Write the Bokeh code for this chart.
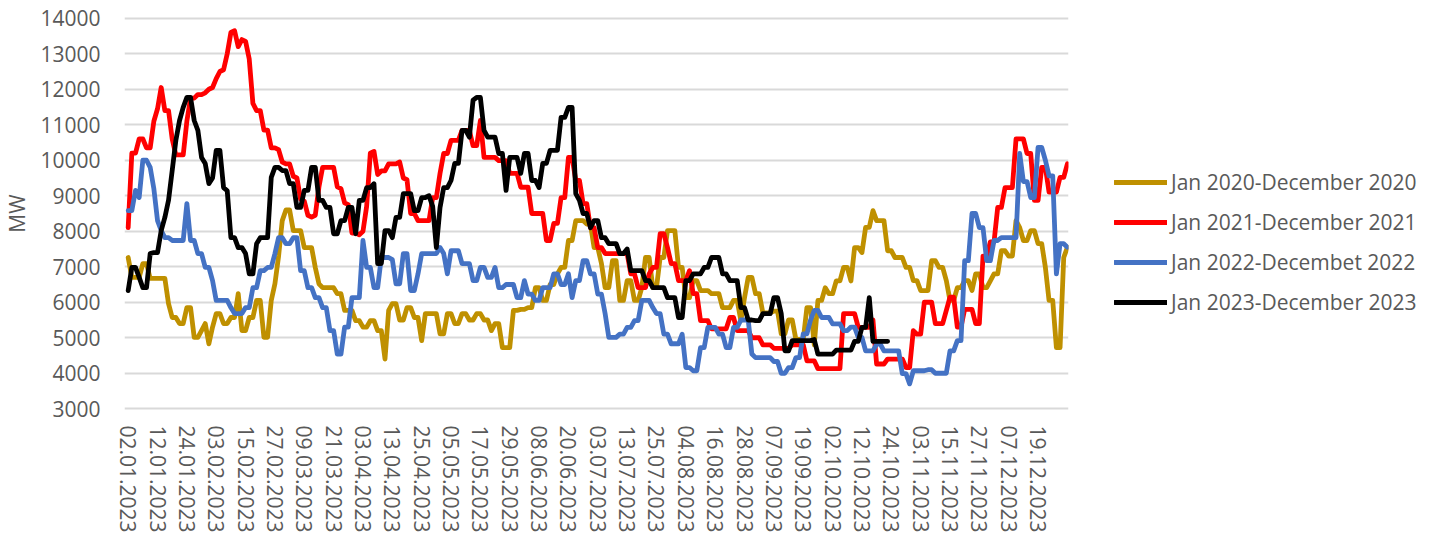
from bokeh.plotting import figure
from bokeh.models import Range1d, FixedTicker, Legend, LegendItem
from bokeh.embed import file_html
from bokeh.resources import INLINE

tick_labels = ["02.01.2023", "12.01.2023", "24.01.2023", "03.02.2023", "15.02.2023", "27.02.2023",
               "09.03.2023", "21.03.2023", "03.04.2023", "13.04.2023", "25.04.2023", "05.05.2023",
               "17.05.2023", "29.05.2023", "08.06.2023", "20.06.2023", "03.07.2023", "13.07.2023",
               "25.07.2023", "04.08.2023", "16.08.2023", "28.08.2023", "07.09.2023", "19.09.2023",
               "02.10.2023", "12.10.2023", "24.10.2023", "03.11.2023", "15.11.2023", "27.11.2023",
               "07.12.2023", "19.12.2023"]

series_names = ["Jan 2020-December 2020", "Jan 2021-December 2021",
                "Jan 2022-Decembet 2022", "Jan 2023-December 2023"]

mw_2020 = [
    7260, 6700, 6700, 6700, 7090, 7090, 6670, 6670,
    6670, 6670, 6670, 5960, 5570, 5570, 5400, 5400,
    5850, 5850, 5010, 5010, 5200, 5400, 4830, 5300,
    5680, 5680, 5400, 5400, 5570, 5570, 6240, 5200,
    5200, 5570, 5570, 6050, 6050, 5010, 5010, 6050,
    6520, 7300, 8300, 8600, 8600, 8020, 8020, 8020,
    7540, 7540, 7540, 6980, 6520, 6410, 6410, 6410,
    6410, 6240, 6240, 5770, 5770, 5770, 5480, 5480,
    5300, 5300, 5480, 5480, 5200, 5200, 4400, 5770,
    5960, 5960, 5500, 5500, 5850, 5850, 5570, 5570,
    4920, 5680, 5680, 5680, 5680, 5110, 5110, 5680,
    5680, 5400, 5400, 5680, 5680, 5500, 5500, 5680,
    5680, 5500, 5500, 5200, 5400, 5400, 4720, 4720,
    4720, 5770, 5770, 5800, 5800, 5850, 5850, 6410,
    6410, 6050, 6050, 6500, 6500, 6800, 6980, 6980,
    7740, 7740, 8300, 8300, 8300, 8200, 8200, 7540,
    7540, 7090, 6410, 6410, 7170, 7170, 6050, 6050,
    6610, 6610, 6050, 6050, 6410, 7260, 7260, 6410,
    6410, 7260, 7260, 8020, 8020, 8020, 6980, 6980,
    6130, 6130, 6610, 6610, 6330, 6330, 6330, 6240,
    6240, 6240, 5850, 5850, 5850, 6050, 6050, 5480,
    6130, 6700, 6700, 6240, 6240, 5700, 5700, 5700,
    5750, 5750, 5110, 5110, 5500, 5500, 4950, 4950,
    4950, 5850, 5850, 4800, 6050, 6050, 6410, 6240,
    6240, 6600, 6600, 6980, 6980, 6600, 7540, 7540,
    7400, 8110, 8110, 8580, 8300, 8300, 8300, 7450,
    7450, 7260, 7260, 7260, 6980, 6980, 6610, 6610,
    6330, 6330, 6330, 7170, 7170, 6980, 6980, 6610,
    6050, 6050, 6410, 6410, 6610, 6610, 6330, 6800,
    6800, 6410, 6410, 6600, 6800, 6800, 7450, 7450,
    7300, 7300, 8300, 8100, 7740, 7740, 8020, 8020,
    7650, 7650, 6980, 6050, 6050, 4720, 4720, 7260,
    7550]

mw_2021 = [
    8100, 10200, 10200, 10600, 10600, 10350, 10350, 11100,
    11450, 12050, 11400, 11400, 10600, 10150, 10150, 10150,
    11100, 11750, 11750, 11850, 11850, 11900, 12000, 12050,
    12300, 12500, 12550, 13000, 13600, 13650, 13200, 13400,
    13350, 12850, 11600, 11400, 11400, 10850, 10850, 10350,
    10350, 10300, 9950, 9900, 9900, 9550, 9500, 8900,
    8850, 8450, 8400, 8450, 9250, 9800, 9800, 9800,
    9800, 9250, 9200, 8800, 8750, 7950, 7950, 7900,
    8000, 8700, 10200, 10250, 9600, 9700, 9700, 9900,
    9900, 9900, 9950, 9500, 9450, 8500, 8500, 8300,
    8300, 8300, 8300, 8950, 8950, 9630, 10190, 10190,
    10560, 10560, 10560, 10840, 10840, 10840, 10410, 10410,
    11120, 10080, 10080, 10080, 10080, 9990, 9990, 9990,
    9630, 9630, 9630, 9240, 9240, 9240, 8500, 8500,
    8500, 8500, 7740, 7740, 8220, 8220, 8950, 8950,
    10080, 10080, 9430, 9430, 8780, 8780, 8100, 8100,
    7540, 7540, 7370, 7370, 7370, 7370, 7370, 7370,
    7370, 6800, 6800, 6410, 6410, 6410, 6800, 6980,
    6980, 7930, 7930, 7540, 7090, 7090, 6610, 6610,
    6610, 6890, 6240, 6240, 5480, 5480, 5480, 5250,
    5250, 5250, 5250, 5250, 5570, 5570, 5200, 5200,
    5200, 5200, 5000, 5000, 5000, 4800, 4800, 4800,
    4700, 4700, 4700, 4700, 4700, 4800, 4800, 4800,
    4800, 4350, 4350, 4350, 4130, 4130, 4130, 4130,
    4130, 4130, 4130, 5680, 5680, 5680, 5680, 5290,
    5290, 5290, 5290, 5500, 4260, 4260, 4260, 4400,
    4400, 4400, 4400, 4400, 4160, 4160, 5200, 5100,
    5100, 6000, 6000, 6000, 5400, 5400, 5400, 5770,
    6140, 6140, 5300, 5300, 5800, 5800, 5800, 5400,
    5400, 7300, 7300, 7700, 7700, 8670, 8670, 9230,
    9230, 9230, 10600, 10600, 10600, 10190, 10190, 8870,
    8870, 9800, 9800, 9100, 9100, 9100, 9520, 9520,
    9900]

mw_2022 = [
    8580, 8580, 9150, 8950, 10000, 10000, 9800, 9200,
    8300, 8020, 7820, 7820, 7740, 7740, 7740, 7740,
    8780, 7740, 7740, 7370, 7370, 6980, 6980, 6610,
    6050, 6050, 6050, 6050, 5850, 5680, 5680, 5680,
    5850, 5850, 6410, 6410, 6890, 6890, 6980, 6980,
    7370, 7820, 7820, 7650, 7650, 7820, 7820, 6890,
    6890, 6410, 6410, 6130, 6130, 5850, 5850, 5200,
    5200, 4540, 4540, 5300, 5300, 6130, 6130, 6130,
    7740, 6980, 6980, 6410, 6410, 7260, 7260, 7260,
    7200, 6520, 6520, 7370, 7370, 6330, 6330, 6800,
    7370, 7370, 7370, 7370, 7370, 7540, 7370, 6800,
    7450, 7450, 7450, 7090, 7090, 7090, 6610, 6610,
    6980, 6980, 6700, 6700, 6980, 6410, 6410, 6500,
    6500, 6500, 6130, 6130, 6610, 6230, 6230, 6050,
    6050, 6410, 6410, 6410, 6800, 6800, 6500, 6500,
    6800, 6130, 6610, 6610, 7170, 7170, 6800, 6800,
    6230, 6230, 5680, 5010, 5010, 5010, 5100, 5100,
    5290, 5290, 5480, 5480, 6050, 6050, 6050, 5850,
    5680, 5680, 5100, 5100, 4830, 4830, 4830, 5100,
    4160, 4160, 4070, 4070, 4720, 4720, 5290, 5290,
    5290, 5100, 5100, 4720, 4720, 5290, 5290, 5500,
    5500, 5500, 4540, 4440, 4440, 4440, 4440, 4440,
    4330, 4330, 4000, 4000, 4160, 4160, 4440, 4440,
    5110, 5110, 5500, 5770, 5770, 5570, 5570, 5570,
    5390, 5390, 5390, 5200, 5200, 5300, 5300, 5010,
    5010, 4630, 4630, 4630, 4820, 4820, 4630, 4630,
    4630, 4630, 4630, 3990, 3990, 3700, 4070, 4070,
    4070, 4070, 4100, 4100, 4000, 4000, 4000, 4000,
    4630, 4630, 4920, 4920, 7170, 7170, 8500, 8500,
    8100, 8100, 7170, 7170, 7740, 7740, 7820, 7820,
    7820, 7820, 7820, 10190, 9400, 9400, 8950, 8950,
    10360, 10360, 10000, 9560, 9560, 6800, 7650, 7650,
    7550]

mw_2023 = [
    6330, 6980, 6980, 6700, 6410, 6410, 7370, 7400,
    7400, 8020, 8390, 8870, 9710, 10560, 11120, 11490,
    11770, 11770, 11120, 10840, 10080, 9910, 9340, 9500,
    10280, 10280, 9230, 9140, 7820, 7820, 7540, 7540,
    7370, 6800, 6800, 7650, 7820, 7820, 7820, 9520,
    9800, 9800, 9710, 9710, 9340, 9340, 8670, 8670,
    9150, 9150, 9800, 9800, 8870, 8870, 8670, 8670,
    7930, 7930, 8300, 8300, 8670, 8670, 7930, 8870,
    8870, 9230, 9230, 9340, 7090, 7090, 8020, 8020,
    7820, 8390, 8390, 9060, 9060, 9060, 8580, 8580,
    8950, 8950, 9000, 8700, 7540, 8670, 9230, 9230,
    9430, 9910, 9910, 10840, 10840, 10650, 11690, 11770,
    11770, 10840, 10650, 10650, 10650, 10190, 10190, 9150,
    10080, 10080, 10080, 9630, 10190, 10190, 9430, 9430,
    9230, 9910, 9910, 10280, 10280, 10280, 11210, 11210,
    11490, 11490, 9060, 8870, 8500, 8500, 8100, 8300,
    8300, 7820, 7820, 7650, 7650, 7650, 7370, 7370,
    7500, 6890, 6890, 6890, 6890, 6610, 6610, 6410,
    6410, 6410, 6410, 6130, 6130, 6130, 5570, 5570,
    6610, 6610, 6800, 6800, 6800, 6980, 6980, 7260,
    7260, 7260, 6800, 6800, 6610, 6610, 6610, 5850,
    5850, 5500, 5500, 5480, 5480, 5680, 5680, 5680,
    6130, 6130, 5680, 4630, 4630, 4920, 4920, 4920,
    4920, 4920, 4920, 4950, 4540, 4540, 4540, 4540,
    4540, 4650, 4650, 4650, 4650, 4650, 4900, 4900,
    5290, 5290, 6130, 4900, 4900, 4900, 4900, 4900]

colors = ["#BF9000", "#FF0000", "#4472C4", "#000000"]
all_series = [mw_2020, mw_2021, mw_2022, mw_2023]

TXT = "#595959"
FONT = "Open Sans"
FS = "21px"

p = figure(frame_width=944, frame_height=394,
           x_range=Range1d(-1.0, 256.3), y_range=Range1d(2950, 14050),
           output_backend="svg", toolbar_location=None,
           min_border_left=123, min_border_right=355, min_border_top=16, min_border_bottom=60)
p.outline_line_color = None
p.background_fill_color = "white"
p.border_fill_color = "white"

renderers = []
for vals, col in zip(all_series, colors):
    xs = list(range(len(vals)))
    r = p.line(xs, vals, line_color=col, line_width=4.8, line_join="round", line_cap="round")
    renderers.append(r)

yticks = list(range(3000, 14001, 1000))
p.yaxis.ticker = FixedTicker(ticks=yticks)
p.ygrid.ticker = FixedTicker(ticks=yticks)
p.ygrid.grid_line_color = "#D9D9D9"
p.ygrid.grid_line_width = 2
p.xgrid.visible = False

xt = list(range(0, 8 * len(tick_labels), 8))
p.xaxis.ticker = FixedTicker(ticks=xt)
p.xaxis.major_label_overrides = {t: lab for t, lab in zip(xt, tick_labels)}
p.xaxis.major_label_orientation = "vertical"

for ax in (p.xaxis[0], p.yaxis[0]):
    ax.axis_line_color = None
    ax.major_tick_line_color = None
    ax.minor_tick_line_color = None
    ax.major_tick_out = 0
    ax.major_tick_in = 0
    ax.major_label_text_font = FONT
    ax.major_label_text_font_size = FS
    ax.major_label_text_color = TXT

p.xaxis.major_label_standoff = 15
p.yaxis.major_label_standoff = 24
p.yaxis.axis_label = "MW"
p.yaxis.axis_label_text_font = FONT
p.yaxis.axis_label_text_font_size = FS
p.yaxis.axis_label_text_font_style = "normal"
p.yaxis.axis_label_text_color = TXT
p.yaxis.axis_label_standoff = 6

legend = Legend(items=[LegendItem(label=n, renderers=[r]) for n, r in zip(series_names, renderers)],
                location=(46, 94), glyph_width=53, glyph_height=20, label_height=20,
                spacing=12, padding=0, margin=0, border_line_color=None,
                background_fill_alpha=0, label_text_font=FONT, label_text_font_size=FS,
                label_text_color=TXT, label_standoff=4)
p.add_layout(legend, "right")

open("out.html", "w").write(file_html(p, INLINE))
